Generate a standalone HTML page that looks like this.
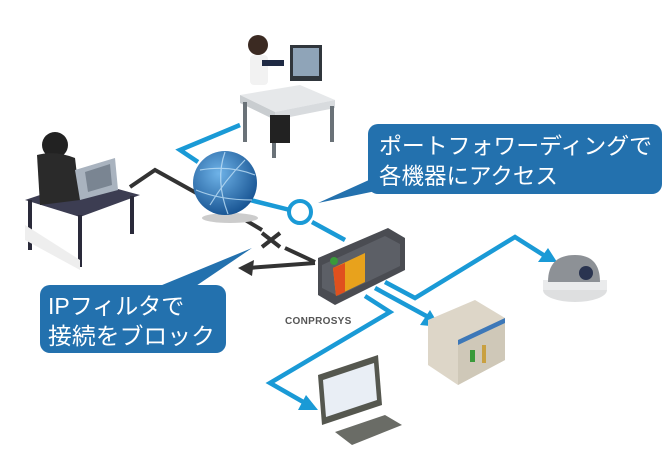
<!DOCTYPE html>
<html><head><meta charset="utf-8"><style>
html,body{margin:0;padding:0;background:#fff;}
svg{display:block;}
text{font-family:"Liberation Sans","Noto Sans CJK JP",sans-serif;}
</style></head><body>
<svg width="672" height="466" viewBox="0 0 672 466" xmlns="http://www.w3.org/2000/svg">
<defs>
<radialGradient id="gl" cx="0.4" cy="0.35" r="0.7"><stop offset="0" stop-color="#6fb3e8"/><stop offset="1" stop-color="#14508f"/></radialGradient>
</defs>
<!-- top desk user -->
<path d="M240 95 L300 85 L335 100 L275 112 Z" fill="#e6e8ea"/>
<path d="M240 95 L275 112 L275 120 L240 103 Z" fill="#c9cdd0"/>
<path d="M275 112 L335 100 L335 108 L275 120 Z" fill="#d8dbde"/>
<rect x="243" y="102" width="4" height="40" fill="#6a7278"/><rect x="272" y="118" width="4" height="40" fill="#6a7278"/><rect x="330" y="106" width="4" height="36" fill="#6a7278"/>
<rect x="290" y="45" width="32" height="36" fill="#30363c"/><rect x="293" y="48" width="26" height="28" fill="#8fa4b8"/>
<circle cx="258" cy="45" r="10" fill="#3b2a22"/><rect x="250" y="55" width="18" height="30" rx="4" fill="#f2f2f2"/><rect x="262" y="60" width="22" height="6" fill="#1f2a44"/>
<rect x="270" y="115" width="20" height="28" fill="#222"/>
<!-- hacker -->
<path d="M25 200 L85 180 L140 195 L80 217 Z" fill="#3c3d52"/>
<rect x="28" y="200" width="4" height="50" fill="#2a2a3a"/><rect x="78" y="215" width="4" height="52" fill="#2a2a3a"/><rect x="130" y="196" width="4" height="38" fill="#2a2a3a"/>
<path d="M25 225 L80 260 L80 270 L25 240 Z" fill="#eee"/>
<circle cx="55" cy="145" r="13" fill="#222"/><path d="M37 155 Q55 150 75 158 L80 200 L40 205 Z" fill="#2a2a2a"/>
<path d="M75 170 L115 158 L118 190 L80 200 Z" fill="#a9b3bf"/>
<path d="M85 172 L110 164 L112 185 L88 192 Z" fill="#7a8592"/>
<!-- black connector -->
<polyline points="130,187 155,170 200,195" fill="none" stroke="#333" stroke-width="4"/>
<polyline points="237,215 262,230" fill="none" stroke="#333" stroke-width="4"/>
<polyline points="285,248 315,262" fill="none" stroke="#333" stroke-width="4"/>
<path d="M262 233 L280 247 M280 233 L262 247" stroke="#333" stroke-width="4"/>
<polyline points="315,263 248,268" fill="none" stroke="#333" stroke-width="4"/>
<path d="M238 268 L254 260 L252 276 Z" fill="#333"/>
<!-- blue lines -->
<g fill="none" stroke="#1a9ad6" stroke-width="4.5">
<polyline points="240,125 180,150 198,162"/>
<line x1="250" y1="200" x2="290" y2="210"/>
<line x1="312" y1="222" x2="345" y2="240"/>
<polyline points="385,282 415,298 515,237 545,256"/>
<polyline points="375,288 430,318"/>
<polyline points="365,296 390,312 270,383 305,403"/>
</g>
<circle cx="300" cy="212" r="11" fill="#fff" stroke="#1a9ad6" stroke-width="4"/>
<path d="M557 262 L538 262 L548 248 Z" fill="#1a9ad6"/>
<path d="M440 327 L420 325 L430 310 Z" fill="#1a9ad6"/>
<path d="M318 410 L298 410 L306 395 Z" fill="#1a9ad6"/>
<!-- globe -->
<ellipse cx="230" cy="218" rx="28" ry="5" fill="#ccc"/>
<circle cx="225" cy="183" r="32" fill="url(#gl)"/>
<g fill="none" stroke="#bfe0f7" stroke-width="1.2" opacity="0.8"><path d="M200 170 Q230 165 255 175"/><path d="M210 205 Q225 180 245 160"/><path d="M196 190 Q220 200 252 200"/><path d="M225 152 Q215 180 228 214"/></g>
<!-- conprosys -->
<path d="M318 258 L388 228 L405 238 L405 270 L335 305 L318 295 Z" fill="#4a4c52"/>
<path d="M322 265 L385 236 L400 244 L400 266 L338 296 L322 288 Z" fill="#5c5f66"/>
<path d="M333 268 L365 253 L365 282 L336 296 Z" fill="#e8a21c"/>
<path d="M333 268 L345 263 L345 292 L336 296 Z" fill="#e0501e"/>
<circle cx="334" cy="261" r="4" fill="#3a9a3a"/>
<text x="285" y="324" font-size="10" fill="#555" font-weight="bold" letter-spacing="0.3">CONPROSYS</text>
<!-- camera -->
<ellipse cx="575" cy="290" rx="32" ry="12" fill="#dedfe0"/>
<rect x="543" y="280" width="64" height="10" fill="#eaebec"/>
<path d="M548 282 Q548 255 575 255 Q600 255 600 282 Z" fill="#8d9196"/>
<circle cx="586" cy="273" r="7" fill="#2a3450"/>
<!-- PLC -->
<path d="M428 320 L475 300 L505 318 L505 360 L458 385 L428 365 Z" fill="#ddd6c8"/>
<path d="M458 340 L505 318 L505 360 L458 385 Z" fill="#cfc8b8"/>
<path d="M458 340 L505 318 L505 323 L458 345 Z" fill="#3d78b8"/>
<rect x="470" y="350" width="5" height="12" fill="#3a9a3a"/><rect x="482" y="345" width="4" height="18" fill="#c9a040"/>
<!-- monitor -->
<path d="M318 375 L378 355 L382 405 L322 425 Z" fill="#55574f"/>
<path d="M323 380 L374 363 L377 400 L326 417 Z" fill="#e9eef5"/>
<path d="M335 432 L385 415 L402 425 L352 445 Z" fill="#6a6c66"/>
<!-- callout 1 -->
<path d="M380 175 L318 203 L405 185 Z" fill="#2371ae"/>
<rect x="368" y="124" width="294" height="70" rx="10" fill="#2371ae"/>
<text x="379" y="154" font-size="22.5" fill="#fff" textLength="273" lengthAdjust="spacingAndGlyphs">ポートフォワーディングで</text>
<text x="379" y="184" font-size="22.5" fill="#fff">各機器にアクセス</text>
<!-- callout 2 -->
<path d="M150 290 L252 248 L190 290 Z" fill="#2371ae"/>
<rect x="40" y="285" width="186" height="68" rx="10" fill="#2371ae"/>
<text x="48" y="314" font-size="23" fill="#fff">IPフィルタで</text>
<text x="48" y="344" font-size="23" fill="#fff" textLength="167" lengthAdjust="spacingAndGlyphs">接続をブロック</text>
</svg>
</body></html>
